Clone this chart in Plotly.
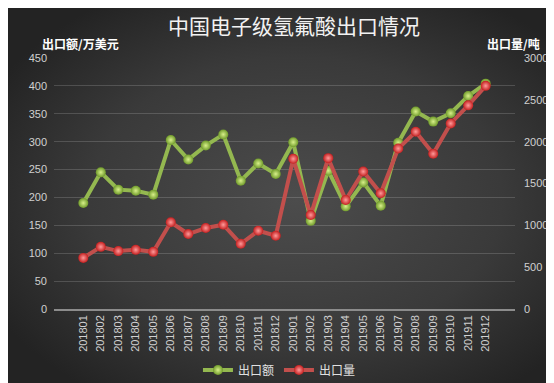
import base64
import plotly.graph_objects as go

months = ["201801", "201802", "201803", "201804", "201805", "201806", "201807", "201808",
          "201809", "201810", "201811", "201812", "201901", "201902", "201903", "201904",
          "201905", "201906", "201907", "201908", "201909", "201910", "201911", "201912"]
export_value = [190, 245, 214, 212, 205, 303, 268, 293, 313, 230, 261, 242,
                299, 158, 248, 184, 227, 185, 298, 354, 336, 351, 382, 404]
export_volume = [611, 743, 692, 707, 683, 1036, 896, 968, 1007, 779, 935, 875,
                 1795, 1123, 1803, 1303, 1643, 1383, 1918, 2119, 1855, 2218, 2434, 2667]

left_ticks = list(range(0, 451, 50))
right_ticks = list(range(0, 3001, 500))

W, H = 554, 383
L, R, T, B = 46, 47, 50, 82
PW, PH = W - L - R, H - T - B

svg = f'''<svg xmlns="http://www.w3.org/2000/svg" width="{W}" height="{H}" viewBox="0 0 {W} {H}" preserveAspectRatio="none">
<defs><radialGradient id="g" cx="52%" cy="50%" r="62%">
<stop offset="0%" stop-color="#4c4c4c"/><stop offset="60%" stop-color="#3a3a3a"/>
<stop offset="100%" stop-color="#232323"/></radialGradient></defs>
<rect width="{W}" height="{H}" fill="url(#g)"/></svg>'''
bg = "data:image/svg+xml;base64," + base64.b64encode(svg.encode()).decode()

tick_font = dict(family="Liberation Sans, Arial", size=11, color="#d0d0d0")

fig = go.Figure()
fig.add_trace(go.Scatter(
    x=months, y=export_value, name="出口额", mode="lines+markers",
    line=dict(color="#94b850", width=4),
    marker=dict(size=10, color="#6f9a2a", gradient=dict(type="radial", color="#d8f08a"),
                line=dict(width=0)),
    yaxis="y"))
fig.add_trace(go.Scatter(
    x=months, y=export_volume, name="出口量", mode="lines+markers",
    line=dict(color="#c24f4c", width=4),
    marker=dict(size=10, color="#c41f1f", gradient=dict(type="radial", color="#ff9a9a"),
                line=dict(width=0)),
    yaxis="y2"))

fig.update_layout(
    width=W, height=H, autosize=False,
    margin=dict(l=L, r=R, t=T, b=B, autoexpand=False),
    paper_bgcolor="#2c2c2c", plot_bgcolor="rgba(0,0,0,0)",
    images=[dict(source=bg, xref="paper", yref="paper", x=-L / PW, y=1 + T / PH,
                 sizex=W / PW, sizey=H / PH, xanchor="left", yanchor="top",
                 sizing="stretch", layer="below")],
    font=dict(family="Noto Sans CJK SC", color="#d9d9d9"),
    xaxis=dict(type="category", tickangle=-90, tickfont=tick_font, showgrid=False,
               showline=True, linecolor="#8c8c8c", linewidth=1.5, ticks="", ticklen=0,
               automargin=False, ticklabelstandoff=0),
    yaxis=dict(range=[0, 450], tickvals=left_ticks, tickfont=tick_font,
               showgrid=True, gridcolor="rgba(255,255,255,0.16)", gridwidth=1,
               zeroline=False, showline=False, ticks="", ticklabelstandoff=6,
               automargin=False),
    yaxis2=dict(range=[0, 3000], tickvals=right_ticks,
                tickfont=dict(family="Liberation Sans, Arial", size=11, color="#d0d0d0"),
                overlaying="y", side="right", showgrid=False, zeroline=False,
                showline=False, ticks="", ticklabelstandoff=8, automargin=False),
    legend=dict(orientation="h", x=0.49, xanchor="center", xref="container",
                y=1 - 362 / H, yanchor="middle", yref="container",
                font=dict(family="Noto Sans CJK SC", size=12, color="#e0e0e0"),
                bgcolor="rgba(0,0,0,0)", itemwidth=30, tracegroupgap=0),
    showlegend=True,
    annotations=[
        dict(text="中国电子级氢氟酸出口情况", xref="paper", yref="paper",
             x=(286 - L) / PW, y=1 + (T - 17) / PH, xanchor="center", yanchor="middle",
             showarrow=False, font=dict(family="Noto Sans CJK SC", size=21, color="#f2f2f2")),
        dict(text="<b>出口额/万美元</b>", xref="paper", yref="paper",
             x=(32 - L) / PW, y=1 + (T - 35) / PH, xanchor="left", yanchor="middle",
             showarrow=False, font=dict(family="Noto Sans CJK SC", size=12, color="#ffffff")),
        dict(text="<b>出口量/吨</b>", xref="paper", yref="paper",
             x=(534 - L) / PW, y=1 + (T - 35) / PH, xanchor="right", yanchor="middle",
             showarrow=False, font=dict(family="Noto Sans CJK SC", size=12, color="#ffffff")),
    ],
)

fig.write_html("out.html")
